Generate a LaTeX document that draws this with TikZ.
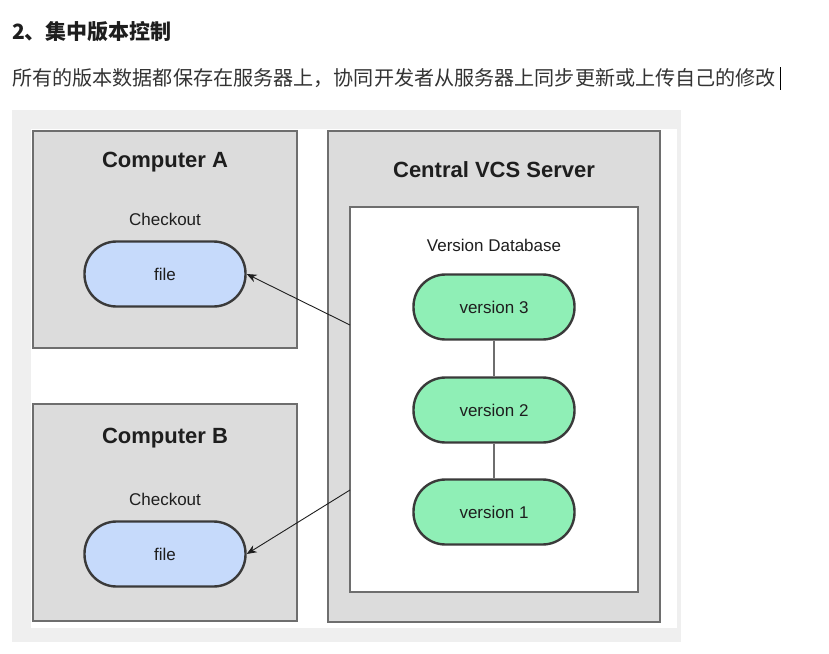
\documentclass[tikz,border=0pt]{standalone}
\usepackage{fontspec}
\newfontfamily\cjk{Noto Sans CJK SC}
\newfontfamily\arialf{Liberation Sans}
\definecolor{framegray}{HTML}{EFEFEF}
\definecolor{boxgray}{HTML}{DCDCDC}
\definecolor{boxline}{HTML}{6E6E6E}
\definecolor{pillline}{HTML}{3A3A3A}
\definecolor{fileblue}{HTML}{C6DAFB}
\definecolor{vergreen}{HTML}{8FEFB6}
\definecolor{txtdark}{HTML}{1E1E1E}
\definecolor{txtgray}{HTML}{333333}
\tikzset{
  machinebox/.style={draw=boxline, fill=boxgray, line width=1.4pt},
  dbbox/.style={draw=boxline, fill=white, line width=1.4pt},
  boxtitle/.style={font=\arialf\bfseries\fontsize{22}{26}\selectfont, text=txtdark},
  boxlabel/.style={font=\arialf\fontsize{17}{20}\selectfont, text=txtdark},
  pill/.style={draw=pillline, line width=2.4pt, minimum width=161pt, minimum height=65pt,
    rounded corners=32pt, inner sep=0pt, font=\arialf\fontsize{17}{20}\selectfont, text=txtdark},
  filepill/.style={pill, fill=fileblue},
  verpill/.style={pill, fill=vergreen},
  link/.style={draw=boxline, line width=1.4pt},
  fetch/.style={draw=txtdark, line width=0.9pt, -{Stealth[length=10pt,width=8pt]}},
}
\usetikzlibrary{arrows.meta}
\begin{document}
\begin{tikzpicture}[x=1pt,y=-1pt]
\useasboundingbox (0,0) rectangle (829,653);
\fill[white] (0,0) rectangle (829,653);
% heading texts
\node[anchor=west, inner sep=0pt, font=\cjk\bfseries\fontsize{21}{24}\selectfont, text=txtdark] (title) at (12,32) {2、集中版本控制};
\node[anchor=west, inner sep=0pt, font=\cjk\fontsize{20.1}{24}\selectfont, text=txtgray] (sub) at (12,78) {所有的版本数据都保存在服务器上，协同开发者从服务器上同步更新或上传自己的修改};
\draw[black, line width=0.8pt] (780,67) -- (780,90);
% picture frame
\fill[framegray] (12,110) rectangle (681,642);
\fill[white] (31,129) rectangle (677,628);
% boxes
\draw[machinebox] (33,131) rectangle (297,348);
\draw[machinebox] (33,404) rectangle (297,621);
\draw[machinebox] (328,131) rectangle (660,622);
\draw[dbbox] (350,207) rectangle (638,592);
\node[boxtitle] (ta) at (165,162) {Computer A};
\node[boxtitle] (tb) at (165,438) {Computer B};
\node[boxtitle] (ts) at (494,170) {Central VCS Server};
\node[boxlabel] (ca) at (165,219) {Checkout};
\node[boxlabel] (cb) at (165,499) {Checkout};
\node[boxlabel] (vd) at (494,245) {Version Database};
% pills
\node[filepill] (fa) at (165,274) {file};
\node[filepill] (fb) at (165,554) {file};
\node[verpill] (v3) at (494,307) {version 3};
\node[verpill] (v2) at (494,410) {version 2};
\node[verpill] (v1) at (494,512) {version 1};
% links
\draw[link] (v3) -- (v2);
\draw[link] (v2) -- (v1);
\coordinate (sa) at (350,325);
\coordinate (sb) at (350,490);
\draw[fetch] (sa) -- (fa.east);
\draw[fetch] (sb) -- (fb.east);
\end{tikzpicture}
\end{document}
